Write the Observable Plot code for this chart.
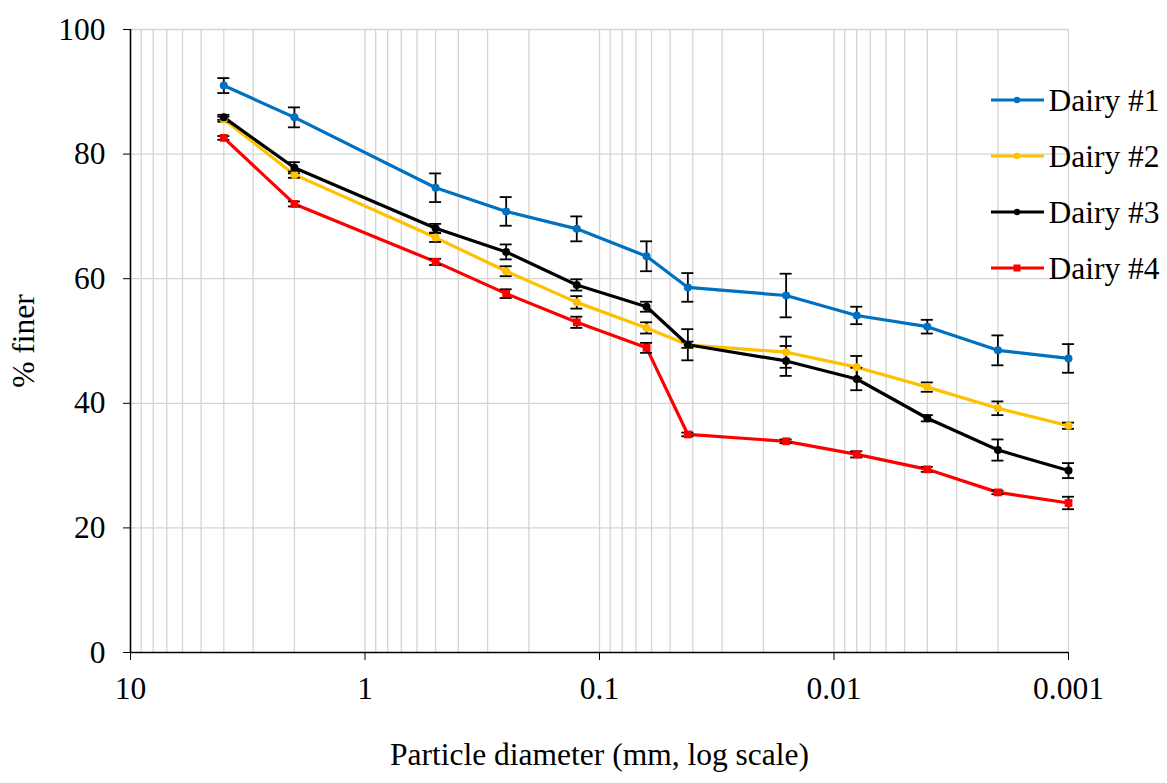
<!DOCTYPE html>
<html>
<head>
<meta charset="utf-8">
<script src="https://cdn.jsdelivr.net/npm/d3@7"></script>
<script src="https://cdn.jsdelivr.net/npm/@observablehq/plot@0.6"></script>
<style>
  html, body { margin: 0; padding: 0; background: #fff; }
  #chart { width: 1167px; height: 783px; }
</style>
</head>
<body>
<div id="chart"></div>
<script>
// ---- Data ----
const diameters = [4, 2, 0.5, 0.25, 0.125, 0.063, 0.042, 0.016, 0.008, 0.004, 0.002, 0.001];
const seriesNames = ["Dairy #1", "Dairy #2", "Dairy #3", "Dairy #4"];
const seriesColors = ["#0070C0", "#FFC000", "#000000", "#FF0000"];

const dairy1 = [91.0, 85.9, 74.6, 70.8, 68.0, 63.6, 58.6, 57.3, 54.1, 52.3, 48.5, 47.2];
const err1   = [1.2, 1.6, 2.3, 2.3, 2.0, 2.4, 2.3, 3.5, 1.4, 1.1, 2.4, 2.3];
const dairy2 = [85.6, 76.7, 66.6, 61.2, 56.2, 52.1, 49.4, 48.2, 45.8, 42.6, 39.2, 36.4];
const err2   = [0.4, 0.5, 0.7, 0.8, 1.0, 0.9, 0.5, 2.5, 1.8, 0.75, 1.1, 0.5];
const dairy3 = [85.9, 77.8, 68.1, 64.3, 59.0, 55.5, 49.4, 46.8, 43.9, 37.6, 32.5, 29.2];
const err3   = [0.4, 0.9, 0.7, 1.2, 0.9, 0.8, 2.5, 2.4, 1.8, 0.5, 1.7, 1.2];
const dairy4 = [82.6, 72.0, 62.7, 57.6, 53.0, 48.9, 35.0, 33.9, 31.8, 29.4, 25.7, 24.0];
const err4   = [0.3, 0.4, 0.5, 0.7, 0.9, 0.8, 0.3, 0.3, 0.5, 0.4, 0.3, 1.0];

const xTicks = [10, 1, 0.1, 0.01, 0.001];
const xTickLabels = ["10", "1", "0.1", "0.01", "0.001"];
const yTicks = [0, 20, 40, 60, 80, 100];
const minorMultipliers = [2, 3, 4, 5, 6, 7, 8, 9];

// ---- Build table ----
const allVals = [dairy1, dairy2, dairy3, dairy4];
const allErrs = [err1, err2, err3, err4];
const rows = [];
seriesNames.forEach((name, s) => {
  diameters.forEach((d, i) => {
    rows.push({name, d, v: allVals[s][i], e: allErrs[s][i]});
  });
});
const gridX = [];
xTicks.slice(1).forEach(t => minorMultipliers.forEach(m => gridX.push(t * m)));
xTicks.forEach(t => gridX.push(t));

const font = "Liberation Serif, serif";
const marginLeft = 130, marginTop = 29;
const legendRows = [100, 156, 212, 268];
const legendTextX = 1048;

const legendTextMarks = seriesNames.map((name, i) =>
  Plot.text([name], {
    text: d => d,
    frameAnchor: "top-left",
    dx: legendTextX - marginLeft,
    dy: legendRows[i] - marginTop,
    textAnchor: "start",
    lineAnchor: "middle",
    fill: "#000",
    fontFamily: font,
    fontSize: 31.5
  })
);

const chart = Plot.plot({
  width: 1167,
  height: 783,
  marginLeft,
  marginRight: 99,
  marginTop,
  marginBottom: 131,
  style: {fontFamily: font, fontSize: "31.5px", color: "#000", background: "#fff", overflow: "visible"},
  x: {type: "log", domain: [10, 0.001]},
  y: {domain: [0, 100]},
  color: {domain: seriesNames, range: seriesColors},
  marks: [
    Plot.ruleX(gridX.filter(v => v < 10), {stroke: "#d4d4d4", strokeWidth: 1.3}),
    Plot.ruleY(yTicks.filter(v => v > 0), {stroke: "#d4d4d4", strokeWidth: 1.3}),
    Plot.axisY({ticks: yTicks, tickSize: 7, tickPadding: 18, label: "% finer", labelAnchor: "center", labelArrow: "none", labelOffset: 119}),
    Plot.axisX({ticks: xTicks, tickFormat: d => xTickLabels[xTicks.indexOf(d)], tickSize: 8, tickPadding: 16, label: "Particle diameter (mm, log scale)", labelAnchor: "center", labelArrow: "none", labelOffset: 112}),
    Plot.ruleY([0], {stroke: "#000", strokeWidth: 1.6}),
    Plot.ruleX([10], {stroke: "#000", strokeWidth: 1.6}),
    Plot.line(rows, {x: "d", y: "v", z: "name", stroke: "name", strokeWidth: 3.2}),
    Plot.ruleX(rows, {x: "d", y1: r => r.v - r.e, y2: r => r.v + r.e, stroke: "#000", strokeWidth: 1.8}),
    Plot.ruleY(rows, {y: r => r.v + r.e, x1: "d", x2: "d", insetLeft: -6, insetRight: -6, stroke: "#000", strokeWidth: 1.8}),
    Plot.ruleY(rows, {y: r => r.v - r.e, x1: "d", x2: "d", insetLeft: -6, insetRight: -6, stroke: "#000", strokeWidth: 1.8}),
    Plot.dot(rows.filter(r => r.name !== "Dairy #4"), {x: "d", y: "v", fill: "name", r: 4, stroke: "none"}),
    Plot.dot(rows.filter(r => r.name === "Dairy #4"), {x: "d", y: "v", fill: "name", symbol: "square", r: 4.4, stroke: "none"}),
    ...legendTextMarks
  ]
});

// ---- Legend swatches ----
const svg = d3.select(chart);
const lg = svg.append("g").attr("class", "legend-swatches");
seriesNames.forEach((name, i) => {
  const y = legendRows[i];
  lg.append("line").attr("x1", 991).attr("x2", 1044).attr("y1", y).attr("y2", y)
    .attr("stroke", seriesColors[i]).attr("stroke-width", 3);
  if (i === 3) {
    lg.append("rect").attr("x", 1013.5).attr("y", y - 3.5).attr("width", 7).attr("height", 7).attr("fill", seriesColors[i]);
  } else {
    lg.append("circle").attr("cx", 1017).attr("cy", y).attr("r", 3.2).attr("fill", seriesColors[i]);
  }
});

document.getElementById("chart").appendChild(chart);
</script>
</body>
</html>
